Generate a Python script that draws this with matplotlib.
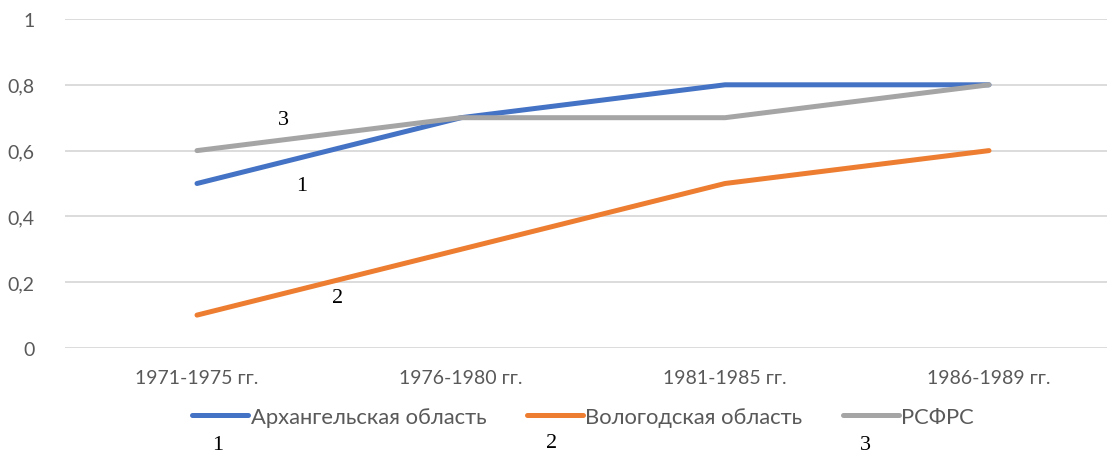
import matplotlib
matplotlib.use("Agg")
import matplotlib.pyplot as plt

# данные
periods = ["1971-1975 гг.", "1976-1980 гг.", "1981-1985 гг.", "1986-1989 гг."]
arkh = [0.5, 0.7, 0.8, 0.8]
vologda = [0.1, 0.3, 0.5, 0.6]
rsfsr = [0.6, 0.7, 0.7, 0.8]
series_names = ["Архангельская область", "Вологодская область", "РСФРС"]
yticks = [0, 0.2, 0.4, 0.6, 0.8, 1]
ytick_labels = ["0", "0,2", "0,4", "0,6", "0,8", "1"]

plt.rcParams["font.family"] = ["Lato", "DejaVu Sans"]

W, H = 1107, 456
fig = plt.figure(figsize=(W / 100, H / 100), dpi=100)
ax = fig.add_axes([65 / W, (H - 349) / H, (1121 - 65) / W, (349 - 20) / H])

x = range(len(periods))
ax.plot(x, arkh, color="#4472C4", lw=3.6, solid_capstyle="round", label=series_names[0])
ax.plot(x, vologda, color="#ED7D31", lw=3.6, solid_capstyle="round", label=series_names[1])
ax.plot(x, rsfsr, color="#A5A5A5", lw=3.6, solid_capstyle="round", label=series_names[2])

ax.set_xlim(-0.5, 3.5)
ax.set_ylim(0, 1)
ax.set_yticks(yticks)
ax.set_yticklabels(ytick_labels)
ax.set_xticks(list(x))
ax.set_xticklabels(periods)
ax.tick_params(axis="both", length=0, labelsize=14, labelcolor="#595959")
ax.tick_params(axis="x", pad=15)
ax.tick_params(axis="y", pad=22)
ax.grid(axis="y", color="#D9D9D9", lw=1.3)
ax.set_axisbelow(True)
for s in ax.spines.values():
    s.set_visible(False)

# номера линий на графике
serif = ["Liberation Serif", "DejaVu Serif"]
ax.text(0.326, 0.696, "3", fontsize=16, family=serif, ha="center", va="center")
ax.text(0.398, 0.495, "1", fontsize=16, family=serif, ha="center", va="center")
ax.text(0.534, 0.155, "2", fontsize=16, family=serif, ha="center", va="center")

leg = fig.legend(loc="center", bbox_to_anchor=(583 / W, (H - 418) / H), ncol=3,
                 frameon=False, fontsize=15.8, handlelength=2.55, handletextpad=0.1,
                 columnspacing=1.85, borderpad=0, borderaxespad=0)
for t in leg.get_texts():
    t.set_color("#595959")

# номера под легендой
fig.text(218 / W, (H - 446) / H, "1", fontsize=16, family=serif, ha="center", va="center")
fig.text(552 / W, (H - 444) / H, "2", fontsize=16, family=serif, ha="center", va="center")
fig.text(865 / W, (H - 446) / H, "3", fontsize=16, family=serif, ha="center", va="center")

fig.savefig("out.png", dpi=100)
